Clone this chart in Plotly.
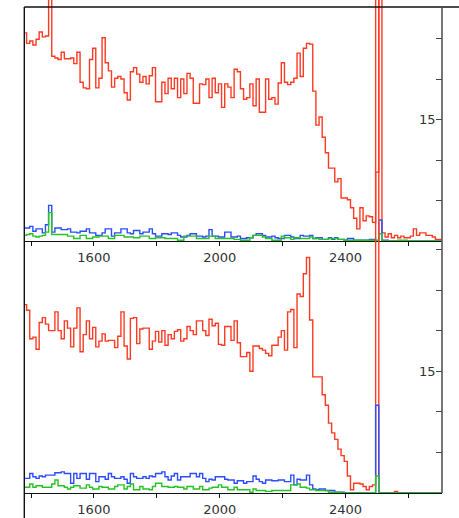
import numpy as np
import plotly.graph_objects as go

# ---- data: 10-unit bins starting at 1376 ----
bin_start = 1376
bin_width = 10

top_red = [25.7, 24.4, 24.7, 24.2, 24.9, 25.8, 25.2, 25.3, 40.0, 22.8,
           22.6, 22.4, 23.3, 22.5, 22.5, 22.6, 21.9, 23.3, 19.6, 18.9,
           18.8, 22.4, 23.8, 18.9, 20.1, 25.1, 22.0, 21.0, 19.0, 20.1,
           20.3, 20.0, 18.3, 17.4, 20.9, 21.4, 20.6, 19.6, 20.3, 19.4,
           20.4, 21.4, 17.2, 17.2, 19.6, 18.2, 20.1, 18.8, 20.1, 17.7,
           20.0, 18.2, 20.7, 20.1, 17.0, 17.0, 19.4, 19.3, 20.0, 17.7,
           20.1, 18.3, 19.4, 16.5, 19.4, 19.0, 17.7, 21.2, 20.9, 18.8,
           17.5, 17.7, 19.4, 16.7, 20.0, 15.9, 15.9, 20.0, 17.5, 17.7,
           16.9, 19.5, 22.0, 19.6, 19.3, 19.6, 20.1, 23.2, 20.3, 23.8,
           24.4, 24.3, 18.5, 14.3, 15.3, 12.8, 10.9, 9.0, 9.0, 7.3,
           7.7, 5.3, 5.3, 5.1, 4.1, 2.8, 1.5, 4.1, 2.5, 3.1,
           3.0, 2.3, 8.5, 200.0, 1.0, 0.5, 0.9, 0.4, 0.7, 0.4,
           0.6, 0.4, 0.4, 0.6, 1.5, 0.7, 1.0, 1.0, 0.7, 0.7,
           0.5, 0.2, 0.2]

top_blue = [1.6, 1.6, 1.8, 1.2, 1.5, 1.5, 1.0, 2.0, 4.4, 1.1,
            1.6, 1.6, 1.4, 1.4, 1.5, 1.1, 1.1, 1.0, 1.2, 1.2,
            1.5, 1.0, 1.0, 0.7, 0.7, 1.0, 1.5, 1.5, 0.6, 1.0,
            1.0, 1.5, 1.5, 1.0, 0.9, 1.3, 1.3, 0.9, 1.1, 1.1,
            1.5, 0.9, 0.6, 0.6, 0.9, 0.9, 0.8, 1.0, 1.0, 0.7,
            0.5, 0.5, 0.7, 0.9, 0.9, 0.6, 0.6, 0.5, 0.6, 1.4,
            0.6, 0.6, 0.5, 0.5, 1.1, 1.1, 0.5, 0.5, 0.6, 0.3,
            0.3, 0.4, 0.4, 0.7, 0.9, 0.9, 0.7, 0.5, 0.5, 0.6,
            0.4, 0.3, 0.3, 0.7, 0.7, 0.5, 0.3, 0.3, 0.7, 0.6,
            0.6, 0.7, 0.3, 0.4, 0.4, 0.2, 0.2, 0.4, 0.2, 0.4,
            0.2, 0.2, 0.1, 0.3, 0.3, 0.1, 0.1, 0.1, 0.1, 0.1,
            0.2, 0.2, 0.0, 2.6, 0.1, 0.1, 0.0, 0.0, 0.0, 0.0,
            0.0, 0.0, 0.0, 0.0, 0.0, 0.0, 0.0, 0.0, 0.0, 0.0,
            0.0, 0.0, 0.0]

top_green = [0.7, 0.8, 0.9, 0.6, 0.5, 0.6, 0.7, 1.1, 3.5, 0.8,
             0.8, 0.8, 0.8, 0.8, 0.6, 0.6, 0.3, 0.3, 0.7, 0.7,
             0.3, 0.3, 0.5, 0.5, 0.6, 0.6, 0.6, 0.3, 0.3, 0.7,
             0.7, 0.7, 0.5, 0.5, 0.5, 0.4, 0.4, 0.6, 0.6, 0.6,
             0.3, 0.3, 0.4, 0.4, 0.4, 0.3, 0.3, 0.3, 0.3, 0.1,
             0.1, 0.6, 0.6, 0.6, 0.6, 0.3, 0.3, 0.3, 0.3, 0.6,
             0.6, 0.3, 0.3, 0.3, 0.3, 0.3, 0.3, 0.2, 0.2, 0.1,
             0.1, 0.1, 0.4, 0.7, 0.7, 0.7, 0.5, 0.3, 0.3, 0.1,
             0.1, 0.1, 0.6, 0.4, 0.4, 0.2, 0.4, 0.4, 0.3, 0.3,
             0.3, 0.5, 0.3, 0.3, 0.2, 0.2, 0.2, 0.3, 0.3, 0.3,
             0.2, 0.2, 0.1, 0.1, 0.1, 0.1, 0.1, 0.1, 0.1, 0.1,
             0.1, 0.1, 0.1, 0.9, 0.0, 0.0, 0.0, 0.0, 0.0, 0.1,
             0.1, 0.1, 0.0, 0.0, 0.0, 0.0, 0.0, 0.0, 0.0, 0.0,
             0.0, 0.0, 0.0]

bottom_red = [23.2, 22.5, 19.0, 19.2, 17.7, 21.0, 21.6, 20.8, 20.0, 20.0,
              22.3, 20.0, 19.0, 21.2, 20.3, 18.0, 20.3, 22.8, 17.4, 19.5,
              21.2, 19.0, 20.4, 18.0, 18.7, 19.6, 18.7, 18.8, 18.8, 17.9,
              19.3, 22.3, 18.1, 16.5, 21.5, 21.6, 18.4, 20.2, 20.3, 20.3,
              17.7, 18.7, 19.9, 18.6, 20.0, 18.2, 19.5, 19.0, 19.9, 20.1,
              18.7, 19.0, 20.5, 20.0, 19.5, 21.2, 21.2, 20.0, 19.4, 21.4,
              20.6, 20.9, 18.3, 18.2, 20.5, 20.5, 18.8, 21.2, 18.5, 16.8,
              16.8, 17.3, 15.0, 18.1, 18.1, 17.8, 17.6, 17.2, 16.9, 18.2,
              18.2, 19.2, 20.0, 17.6, 22.3, 22.6, 17.9, 24.5, 24.2, 27.0,
              29.0, 21.3, 14.3, 14.3, 14.3, 12.1, 10.8, 8.6, 7.4, 6.6,
              5.4, 4.6, 3.9, 2.1, 0.4, 1.2, 1.2, 1.1, 0.8, 0.4,
              0.8, 1.0, 200.0, 0.0, 0.0, 0.0, 0.0, 0.0, 0.2, 0.0,
              0.0, 0.0, 0.0, 0.0, 0.0, 0.0, 0.0, 0.0, 0.0, 0.0,
              0.0, 0.0, 0.0]

bottom_blue = [1.8, 1.8, 2.4, 2.0, 1.8, 2.1, 2.0, 2.2, 2.2, 2.2,
               2.5, 2.5, 2.6, 2.4, 2.4, 1.2, 2.4, 1.8, 2.4, 2.4,
               1.7, 2.4, 2.4, 1.4, 2.0, 2.0, 1.7, 2.4, 2.0, 1.8,
               1.8, 2.0, 1.7, 1.2, 2.4, 2.0, 1.8, 1.8, 2.0, 1.8,
               2.1, 2.0, 2.4, 2.4, 2.6, 2.0, 1.6, 2.1, 2.4, 1.6,
               2.0, 2.0, 2.0, 2.4, 2.4, 2.0, 2.4, 1.8, 1.4, 1.7,
               1.6, 2.0, 2.0, 2.0, 1.7, 1.6, 1.6, 1.2, 1.5, 1.5,
               1.2, 1.4, 1.4, 2.1, 1.7, 1.4, 1.2, 1.6, 1.6, 1.5,
               1.5, 1.6, 1.6, 1.4, 1.4, 2.2, 1.0, 1.7, 1.6, 1.6,
               2.2, 1.0, 0.5, 0.4, 0.5, 0.5, 0.3, 0.3, 0.3, 0.1,
               0.1, 0.1, 0.0, 0.0, 0.0, 0.0, 0.0, 0.0, 0.0, 0.0,
               0.0, 0.0, 10.8, 0.0, 0.0, 0.0, 0.0, 0.0, 0.0, 0.0,
               0.0, 0.0, 0.0, 0.0, 0.0, 0.0, 0.0, 0.0, 0.0, 0.0,
               0.0, 0.0, 0.0]

bottom_green = [0.7, 0.7, 1.1, 0.7, 0.9, 0.9, 0.7, 0.7, 0.7, 1.1,
                1.6, 0.9, 0.9, 0.7, 0.5, 0.7, 0.9, 0.9, 0.6, 0.6,
                1.0, 0.7, 0.5, 0.5, 0.8, 0.7, 0.7, 0.5, 0.5, 0.8,
                1.0, 1.0, 0.5, 0.8, 1.1, 0.4, 0.4, 0.8, 0.5, 0.5,
                0.4, 0.8, 1.2, 1.2, 0.8, 0.8, 0.7, 0.7, 0.8, 0.7,
                0.7, 0.5, 0.8, 0.8, 0.5, 0.5, 0.8, 0.4, 0.4, 0.6,
                0.7, 0.7, 1.0, 0.7, 0.7, 0.4, 0.4, 0.7, 0.4, 0.4,
                0.4, 0.4, 0.1, 0.5, 0.3, 0.3, 0.3, 0.2, 0.2, 0.3,
                0.3, 0.3, 0.3, 0.3, 0.3, 1.0, 1.0, 1.1, 0.7, 0.7,
                0.6, 0.4, 0.4, 0.3, 0.3, 0.3, 0.3, 0.1, 0.1, 0.1,
                0.1, 0.0, 0.0, 0.0, 0.0, 0.0, 0.0, 0.0, 0.0, 0.0,
                0.0, 0.0, 2.1, 0.0, 0.0, 0.0, 0.0, 0.0, 0.0, 0.0,
                0.0, 0.0, 0.0, 0.0, 0.0, 0.0, 0.0, 0.0, 0.0, 0.0,
                0.0, 0.0, 0.0]

x_tick_values = [1400, 1600, 1800, 2000, 2200, 2400, 2600]
x_tick_labels = ["", "1600", "", "2000", "", "2400", ""]
y_tick_values_top = [5, 10, 15, 20, 25]
y_tick_labels_top = ["", "", "15", "", ""]
y_tick_values_bot = [5, 10, 15, 20, 25, 30]
y_tick_labels_bot = ["", "", "15", "", "", ""]

# ---- geometry / style ----
W, H = 459, 518
left_px, right_px = 24.3, 442.0
top_px, mid_px, bot_px = 7.0, 241.0, 493.0
x_range = [1378.7, 2707.0]
px_per_unit_top = 40.5 / 5
px_per_unit_bot = 40.6 / 5

RED = "#ff3a22"
BLUE = "#2b4cff"
GREEN = "#25c425"
LW = 1.4


def step_xy(vals):
    n = len(vals)
    xs = list(bin_start + bin_width * np.arange(n + 1))
    ys = list(vals) + [vals[-1]]
    return xs, ys


fig = go.Figure()
for vals, col, xa, ya in [
    (top_red, RED, "x", "y"), (top_blue, BLUE, "x", "y"), (top_green, GREEN, "x", "y"),
    (bottom_red, RED, "x2", "y2"), (bottom_blue, BLUE, "x2", "y2"), (bottom_green, GREEN, "x2", "y2"),
]:
    xs, ys = step_xy(vals)
    fig.add_trace(go.Scatter(x=xs, y=ys, mode="lines", line=dict(color=col, width=LW, shape="hv"),
                             xaxis=xa, yaxis=ya, hoverinfo="skip"))

xdom = [left_px / W, right_px / W]
ydom_top = [1 - mid_px / H, 1.0]
ydom_bot = [1 - bot_px / H, 1.0]
top_range = [0, mid_px / px_per_unit_top]
bot_range = [0, bot_px / px_per_unit_bot]

tickfont = dict(family="DejaVu Sans", size=13, color="#333333")

xbase = dict(domain=xdom, range=x_range, tickmode="array", tickvals=x_tick_values,
             ticktext=x_tick_labels, ticks="outside", ticklen=4, tickwidth=1.2, tickcolor="#111",
             showline=True, linecolor="#111", linewidth=1.4, showgrid=False, zeroline=False,
             tickfont=tickfont, fixedrange=True)
xover = dict(domain=xdom, range=x_range, tickmode="array", tickvals=x_tick_values,
             ticks="inside", ticklen=3, tickwidth=1.2, tickcolor="#111", showticklabels=False,
             showline=False, showgrid=False, zeroline=False)

ybase = dict(side="right", tickmode="array", ticks="inside", ticklen=6, tickwidth=1.2,
             tickcolor="#444", ticklabelposition="inside", showline=False, showgrid=False,
             zeroline=False, tickfont=tickfont)
yover = dict(side="right", tickmode="array", ticks="outside", ticklen=7, tickwidth=1.2,
             tickcolor="#444", showticklabels=False, showline=False, showgrid=False, zeroline=False)

fig.update_layout(
    width=W, height=H, margin=dict(l=0, r=0, t=0, b=0),
    paper_bgcolor="white", plot_bgcolor="rgba(0,0,0,0)", showlegend=False,
    xaxis=dict(**xbase, anchor="y"),
    xaxis2=dict(**xbase, anchor="y2"),
    xaxis3=dict(**xover, anchor="y", overlaying="x"),
    xaxis4=dict(**xover, anchor="y2", overlaying="x2"),
    yaxis=dict(**ybase, domain=ydom_top, range=top_range, anchor="x",
               tickvals=y_tick_values_top, ticktext=y_tick_labels_top),
    yaxis2=dict(**ybase, domain=ydom_bot, range=bot_range, anchor="x2",
                tickvals=y_tick_values_bot, ticktext=y_tick_labels_bot),
    yaxis3=dict(**yover, domain=ydom_top, range=top_range, anchor="x", overlaying="y",
                tickvals=y_tick_values_top),
    yaxis4=dict(**yover, domain=ydom_bot, range=bot_range, anchor="x2", overlaying="y2",
                tickvals=y_tick_values_bot),
)

top_frac = 1 - top_px / H
shapes = [
    dict(type="line", xref="paper", yref="paper", x0=left_px / W, x1=1.0, y0=top_frac, y1=top_frac,
         line=dict(color="#111", width=1.3)),
    dict(type="line", xref="paper", yref="paper", x0=left_px / W, x1=left_px / W, y0=0, y1=top_frac,
         line=dict(color="#111", width=1.4)),
    dict(type="line", xref="paper", yref="paper", x0=right_px / W, x1=right_px / W,
         y0=1 - bot_px / H, y1=top_frac, line=dict(color="#555", width=1.6)),
]
fig.update_layout(shapes=shapes)

fig.write_html("out.html")
